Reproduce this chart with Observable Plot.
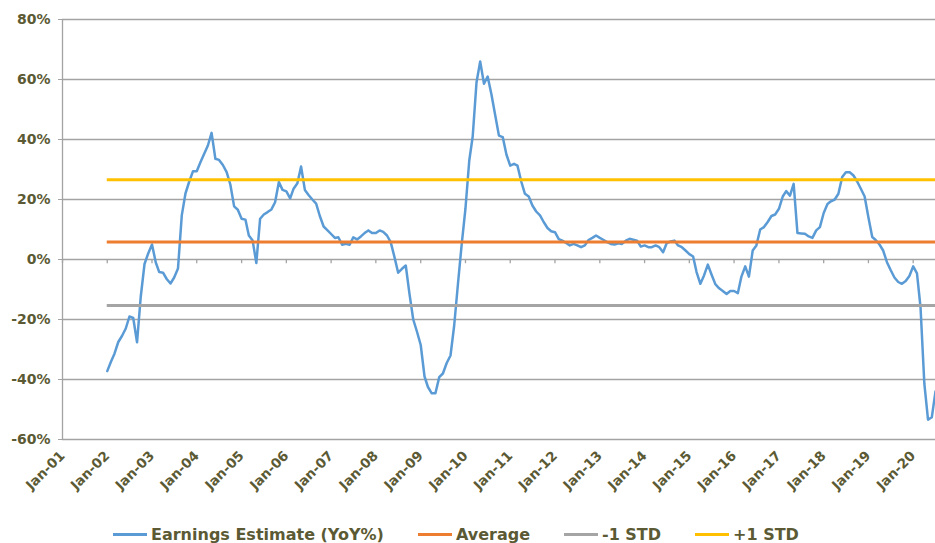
<!DOCTYPE html>
<html>
<head>
<meta charset="utf-8">
<script src="https://cdn.jsdelivr.net/npm/d3@7"></script>
<script src="https://cdn.jsdelivr.net/npm/@observablehq/plot@0.6"></script>
<style>
  html, body { margin: 0; padding: 0; background: #fff; overflow: hidden; }
  body { width: 935px; height: 543px; position: relative; font-family: "DejaVu Sans", Verdana, sans-serif; }
  #chart { position: absolute; left: 0; top: 0; }
  #legend { position: absolute; left: 0; top: 518px; height: 32px; display: flex; align-items: center;
            padding-left: 113px; gap: 34px; font-weight: bold; font-size: 16px; color: #5b5a34; white-space: nowrap; }
  .item { display: flex; align-items: center; gap: 4px; }
  .swatch { width: 34px; height: 3px; }
</style>
</head>
<body>
<div id="chart"></div>
<div id="legend"></div>
<script>
// Monthly earnings estimate YoY %, starting Jan-2002
const startYear = 2002;
const estimate = [
  -37.2, -34, -31.4, -27.5, -25.5, -23, -19, -19.5, -27.6, -12.5, -1.5, 2,
  5, -1, -4.2, -4.4, -6.5, -8, -6, -3, 14.7, 22, 26, 29.4,
  29.4, 32.5, 35.2, 38, 42.2, 33.6, 33.2, 31.5, 29.1, 25, 17.7, 16.6,
  13.6, 13.3, 8, 6.3, -1.2, 13.6, 15, 15.8, 16.7, 19.1, 25.8, 23.2,
  22.7, 20.4, 23.6, 25.4, 31, 23.2, 21.5, 20, 18.6, 14.5, 11, 9.8,
  8.5, 7.2, 7.4, 4.9, 5.2, 4.9, 7.4, 6.7, 7.7, 8.8, 9.7, 8.8,
  8.8, 9.7, 9.2, 8, 5.8, 0.8, -4.4, -3.1, -2, -11.4, -20, -24,
  -28.5, -39, -42.5, -44.6, -44.6, -39.2, -38, -34.5, -32, -22, -8, 5,
  17, 33, 41, 59, 66, 58.6, 61, 55, 48, 41.3, 40.8, 35,
  31.3, 31.9, 31.3, 26, 21.9, 21, 18, 16, 14.7, 12.5, 10.5, 9.4,
  9.1, 6.8, 6.3, 5.5, 4.7, 5.2, 4.7, 4.1, 4.7, 6.5, 7.2, 8,
  7.2, 6.5, 5.8, 5.2, 5, 5.4, 5.2, 6.3, 6.9, 6.6, 6.3, 4.3,
  4.7, 4.1, 4.1, 4.7, 4.1, 2.4, 5.5, 6, 6.3, 4.7, 4.1, 3,
  1.8, 1, -4.2, -8.1, -5.3, -1.7, -5, -8.2, -9.6, -10.5, -11.5, -10.5,
  -10.5, -11.2, -5.7, -2.3, -5.7, 3, 4.7, 10, 10.8, 12.5, 14.5, 15,
  16.9, 21, 22.8, 21.3, 25.2, 8.8, 8.7, 8.6, 7.7, 7.2, 9.7, 10.8,
  15.5, 18.5, 19.4, 20, 21.9, 27.5, 29.1, 29.1, 28, 26, 23.5, 21,
  14, 7.5, 6.5, 5, 3, -0.9, -3.5, -6, -7.5, -8.1, -7.2, -5.5,
  -2.3, -4.6, -16, -41.4, -53.4, -52.6, -44
];
const refNames = ["Average", "-1 STD", "+1 STD"];
const refValues = [5.8, -15.3, 26.6];
const refColors = ["#ed7d31", "#a5a5a5", "#ffc000"];
const seriesName = "Earnings Estimate (YoY%)";
const seriesColor = "#5b9bd5";
const yTicks = [-60, -40, -20, 0, 20, 40, 60, 80];
const xTickYears = [2001, 2002, 2003, 2004, 2005, 2006, 2007, 2008, 2009, 2010,
                    2011, 2012, 2013, 2014, 2015, 2016, 2017, 2018, 2019, 2020];
const xDomainStart = [2001, 0];
const xDomainEnd = [2020, 6];

const data = estimate.map((v, i) => ({date: new Date(Date.UTC(startYear, i, 1)), value: v}));
const refs = refNames.map((n, i) => ({name: n, value: refValues[i], color: refColors[i]}));
const tickDates = xTickYears.map(y => new Date(Date.UTC(y, 0, 1)));
const d0 = new Date(Date.UTC(...xDomainStart));
const d1 = new Date(Date.UTC(...xDomainEnd));
const firstDate = data[0].date;
const textColor = "#5b5a34";
const gridColor = "#a3a3a3";

const plot = Plot.plot({
  width: 935, height: 518,
  marginLeft: 62, marginRight: 0, marginTop: 19, marginBottom: 79,
  x: {type: "utc", domain: [d0, d1]},
  y: {domain: [-60, 80]},
  color: {type: "identity"},
  style: {fontFamily: "DejaVu Sans, Verdana, sans-serif", fontWeight: "bold", color: textColor, background: "#fff", overflow: "visible"},
  marks: [
    Plot.gridY(yTicks, {stroke: gridColor, strokeOpacity: 1, strokeWidth: 1.3}),
    Plot.axisY({ticks: yTicks, tickSize: 4, tickPadding: 8, tickFormat: d => d + "%", stroke: gridColor, fontSize: 14, label: null}),
    Plot.ruleX([d0], {stroke: gridColor, strokeWidth: 1.3}),
    Plot.ruleX(tickDates, {x: d => d, y1: 0, y2: -1.4, stroke: gridColor, strokeWidth: 1.3}),
    Plot.axisX({ticks: tickDates, tickFormat: d3.utcFormat("%b-%y"), tickRotate: -45, tickSize: 0, tickPadding: 14, fontSize: 13.5, label: null}),
    Plot.lineY(data, {x: "date", y: "value", stroke: seriesColor, strokeWidth: 2.5}),
    Plot.ruleY(refs, {y: "value", x1: firstDate, x2: d1, stroke: "color", strokeWidth: 3})
  ]
});
document.getElementById("chart").appendChild(plot);

const legend = document.getElementById("legend");
const items = [{name: seriesName, color: seriesColor}, ...refs];
for (const it of items) {
  const el = document.createElement("div");
  el.className = "item";
  const sw = document.createElement("span");
  sw.className = "swatch";
  sw.style.background = it.color;
  const tx = document.createElement("span");
  tx.textContent = it.name;
  el.appendChild(sw); el.appendChild(tx);
  legend.appendChild(el);
}
</script>
</body>
</html>
